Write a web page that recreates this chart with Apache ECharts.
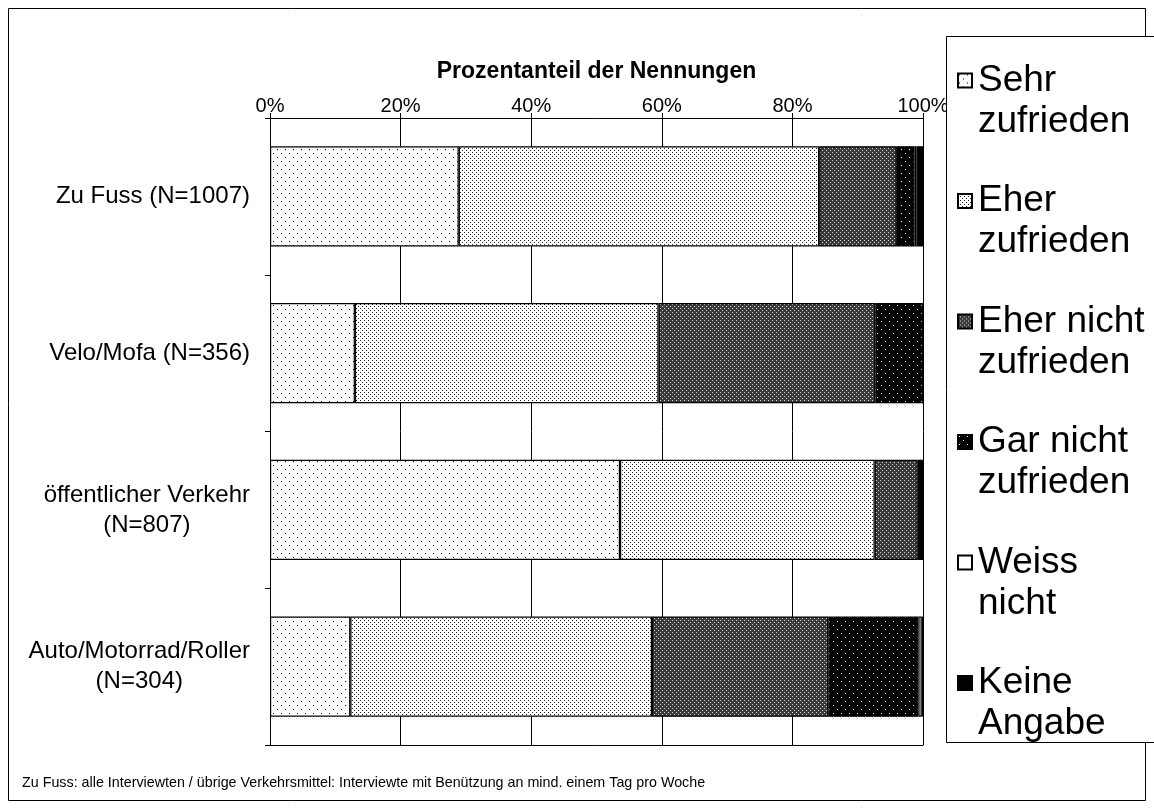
<!DOCTYPE html>
<html>
<head>
<meta charset="utf-8">
<script src="https://cdn.jsdelivr.net/npm/echarts@6/dist/echarts.min.js"></script>
<style>
html,body{margin:0;padding:0;background:#fff;}
#chart{width:1154px;height:809px;}
</style>
</head>
<body>
<div id="chart"></div>
<script>
// ---- data ----
const categories = ['Zu Fuss (N=1007)', 'Velo/Mofa (N=356)', 'öffentlicher Verkehr\n(N=807)', 'Auto/Motorrad/Roller\n(N=304)'];
const seriesNames = ['Sehr\nzufrieden', 'Eher\nzufrieden', 'Eher nicht\nzufrieden', 'Gar nicht\nzufrieden', 'Weiss\nnicht', 'Keine\nAngabe'];
const sehrZufrieden     = [28.9, 13.0, 53.6, 12.3];
const eherZufrieden     = [55.2, 46.5, 39.0, 46.2];
const eherNichtZufrieden= [11.9, 33.2, 6.6, 27.0];
const garNichtZufrieden = [2.7, 7.3, 0.5, 13.8];
const weissNicht        = [0.3, 0, 0, 0.5];
const keineAngabe       = [1.0, 0, 0.3, 0.2];
const xTickValues = [0, 20, 40, 60, 80, 100];
const axisTitle = 'Prozentanteil der Nennungen';
const footnote = 'Zu Fuss: alle Interviewten / übrige Verkehrsmittel: Interviewte mit Benützung an mind. einem Tag pro Woche';

// ---- patterns ----
function pattern(size, bg, fg, pts, w) {
  const c = document.createElement('canvas');
  c.width = size; c.height = size;
  const g = c.getContext('2d');
  g.fillStyle = bg; g.fillRect(0, 0, size, size);
  g.fillStyle = fg;
  pts.forEach(p => g.fillRect(p[0], p[1], w || 1, w || 1));
  return { image: c, repeat: 'repeat' };
}
const fills = [
  pattern(8, '#ffffff', '#000000', [[1,1],[5,5]]),
  pattern(4, '#ffffff', '#222222', [[0,0],[2,2]]),
  pattern(4, '#3a3a3a', '#d8d8d8', [[0,0],[2,2]]),
  pattern(8, '#000000', '#ffffff', [[1,1],[5,5]]),
  '#ffffff',
  '#000000'
];
const values = [sehrZufrieden, eherZufrieden, eherNichtZufrieden, garNichtZufrieden, weissNicht, keineAngabe];

const FONT = 'Liberation Sans, Arial, sans-serif';
const chart = echarts.init(document.getElementById('chart'), null, { renderer: 'canvas' });

const series = seriesNames.map((n, i) => ({
  name: n,
  type: 'bar',
  stack: 'total',
  data: values[i],
  barCategoryGap: '36%',
  itemStyle: { color: fills[i], borderColor: '#000', borderWidth: 1.2 },
  emphasis: { disabled: true },
  z: 3
}));

chart.setOption({
  animation: false,
  backgroundColor: '#fff',
  textStyle: { fontFamily: FONT },
  grid: { left: 270, right: 231, top: 118, bottom: 64 },
  xAxis: [{
    type: 'value', position: 'top', min: 0, max: 100, interval: 20,
    name: axisTitle, nameLocation: 'middle', nameGap: 35,
    nameTextStyle: { fontFamily: FONT, fontSize: 23, fontWeight: 'bold', color: '#000' },
    axisLine: { show: true, lineStyle: { color: '#000', width: 1 } },
    axisTick: { show: true, length: 5, lineStyle: { color: '#000' } },
    axisLabel: { fontFamily: FONT, fontSize: 20, color: '#000', margin: 2,
      formatter: v => xTickValues.indexOf(v) >= 0 ? v + '%' : '' },
    splitLine: { show: true, lineStyle: { color: '#000', width: 1 } }
  }, {
    type: 'value', position: 'bottom', min: 0, max: 100, interval: 20,
    axisLine: { show: true, lineStyle: { color: '#000', width: 1 } },
    axisTick: { show: false }, axisLabel: { show: false }, splitLine: { show: false }
  }],
  yAxis: {
    type: 'category', inverse: true, data: categories,
    axisLine: { show: true, lineStyle: { color: '#000', width: 1 } },
    axisTick: { show: true, length: 5, lineStyle: { color: '#000' } },
    axisLabel: {
      margin: 20, color: '#000', fontFamily: FONT, fontSize: 24, lineHeight: 30,
      formatter: v => v.split('\n').map(s => '{c|' + s + '}').join('\n'),
      rich: { c: { align: 'center', fontFamily: FONT, fontSize: 24, lineHeight: 30, color: '#000' } }
    },
    splitLine: { show: false }
  },
  legend: {
    orient: 'vertical', left: 957, top: 19, padding: 0,
    itemWidth: 14, itemHeight: 14, itemGap: -2.5,
    icon: 'rect',
    selectedMode: false,
    data: seriesNames,
    formatter: name => '\n' + name,
    textStyle: { fontFamily: FONT, fontSize: 37, lineHeight: 41, color: '#000', padding: [0, 0, 0, 1] },
    z: 10
  },
  graphic: [
    { type: 'rect', z: 0, silent: true, shape: { x: 8.5, y: 8.5, width: 1137, height: 792 },
      style: { fill: 'none', stroke: '#000', lineWidth: 1 } },
    { type: 'rect', z: 1, silent: true, shape: { x: 946.5, y: 36.5, width: 215, height: 706 },
      style: { fill: '#fff', stroke: '#000', lineWidth: 1 } },
    { type: 'text', z: 1, silent: true, x: 22, y: 783,
      style: { text: footnote, fontFamily: 'Liberation Sans Narrow, ' + FONT, fontSize: 14.3, fill: '#000', verticalAlign: 'middle' } }
  ],
  series: series
});
</script>
</body>
</html>
